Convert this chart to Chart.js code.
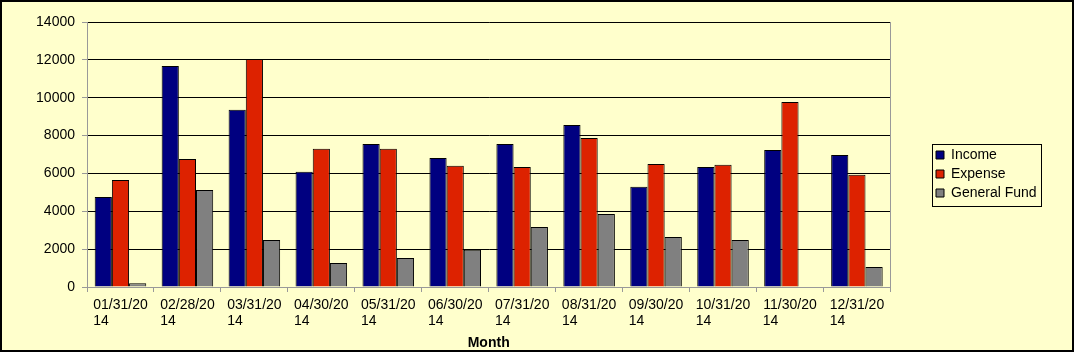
<!DOCTYPE html>
<html>
<head>
<meta charset="utf-8">
<script src="https://cdn.jsdelivr.net/npm/chart.js@4/dist/chart.umd.min.js"></script>
<style>
  html, body { margin: 0; padding: 0; background: #ffffff; }
  #c { display: block; }
</style>
</head>
<body>
<canvas id="c" width="1075" height="355"></canvas>
<script>
const categories = ['01/31/2014','02/28/2014','03/31/2014','04/30/2014','05/31/2014','06/30/2014',
                    '07/31/2014','08/31/2014','09/30/2014','10/31/2014','11/30/2014','12/31/2014'];
const income      = [4750, 11680, 9370, 6090, 7550, 6820, 7550, 8560, 5300, 6340, 7240, 6970];
const expense     = [5650, 6760, 12050, 7300, 7300, 6400, 6340, 7870, 6500, 6460, 9770, 5930];
const generalFund = [200, 5120, 2480, 1270, 1530, 1970, 3170, 3860, 2640, 2480, 0, 1060];
const yTickValues = [0, 2000, 4000, 6000, 8000, 10000, 12000, 14000];
const seriesNames = ['Income', 'Expense', 'General Fund'];
const xTitle = 'Month';

const FONT = "'Liberation Sans', Arial, sans-serif";

const frame = {
  id: 'frame',
  beforeDraw(chart) {
    const ctx = chart.ctx;
    ctx.save();
    ctx.fillStyle = '#ffffff';
    ctx.fillRect(0, 0, chart.width, chart.height);
    ctx.fillStyle = '#FFFFCC';
    ctx.fillRect(0, 0, 1074, 352);
    ctx.strokeStyle = '#000000';
    ctx.lineWidth = 2;
    ctx.strokeRect(1, 1, 1072, 350);
    ctx.restore();
  }
};

const legendPlace = {
  id: 'legendPlace',
  afterLayout(chart) {
    const lg = chart.legend;
    const w = lg.right - lg.left, h = lg.bottom - lg.top;
    lg.left = 931; lg.right = 931 + w;
    lg.top = 143; lg.bottom = 143 + h;
  },
  afterDraw(chart) {
    const lg = chart.legend;
    const hb = lg.legendHitBoxes;
    if (!hb || !hb.length) return;
    let l = Infinity, r = -Infinity, t = Infinity, b = -Infinity;
    hb.forEach(h => { l = Math.min(l, h.left); r = Math.max(r, h.left + h.width); t = Math.min(t, h.top); b = Math.max(b, h.top + h.height); });
    const ctx = chart.ctx;
    ctx.save();
    ctx.strokeStyle = '#000';
    ctx.lineWidth = 1;
    ctx.strokeRect(Math.round(l - 4) + 0.5, Math.round(t - 4) + 0.5, Math.round(r + 4 - (l - 4)), Math.round(b + 6 - (t - 4)));
    ctx.restore();
  }
};

new Chart(document.getElementById('c'), {
  type: 'bar',
  data: {
    labels: categories,
    datasets: [
      { label: seriesNames[0], data: income, backgroundColor: '#000080', borderColor: '#000000', borderWidth: 1 },
      { label: seriesNames[1], data: expense, backgroundColor: '#DD2200', borderColor: '#000000', borderWidth: 1 },
      { label: seriesNames[2], data: generalFund, backgroundColor: '#808080', borderColor: '#000000', borderWidth: 1 }
    ]
  },
  options: {
    responsive: false,
    animation: false,
    events: [],
    layout: { padding: { left: 0, right: 28, top: 22, bottom: 3 } },
    datasets: { bar: { categoryPercentage: 0.77, barPercentage: 1.0 } },
    plugins: {
      legend: {
        position: 'right',
        align: 'start',
        labels: {
          boxWidth: 8, boxHeight: 8, padding: 5, color: '#000',
          font: { family: FONT, size: 14 }
        }
      },
      tooltip: { enabled: false }
    },
    scales: {
      x: {
        offset: true,
        grid: { display: true, drawOnChartArea: false, offset: true, tickLength: 5, color: '#999999' },
        border: { display: true, color: '#999999', width: 1 },
        ticks: {
          color: '#000', autoSkip: false, maxRotation: 0, minRotation: 0, padding: 5,
          font: { family: FONT, size: 14, lineHeight: 1.15 },
          callback: function(v, i) {
            const s = categories[i];
            return [s.slice(0, 8), s.slice(8) + '          '];
          }
        },
        title: {
          display: true, text: xTitle, color: '#000',
          font: { family: FONT, size: 14, weight: 'bold' },
          padding: { top: 0, bottom: 0 }
        },
        afterFit(scale) { scale.height = 65; }
      },
      y: {
        min: 0, max: 14000,
        afterBuildTicks(scale) { scale.ticks = yTickValues.map(v => ({ value: v })); },
        grid: { color: '#000000', tickColor: '#999999', tickLength: 5, lineWidth: 1 },
        border: { display: true, color: '#999999', width: 1 },
        ticks: {
          color: '#000', padding: 7,
          font: { family: FONT, size: 14 },
          callback: v => String(v)
        },
        afterFit(scale) { scale.width = 87; }
      },
      y2: {
        position: 'right',
        display: true,
        grid: { display: false },
        border: { display: true, color: '#999999', width: 1 },
        ticks: { display: false },
        afterFit(scale) { scale.width = 41; }
      }
    }
  },
  plugins: [frame, legendPlace]
});
</script>
</body>
</html>
